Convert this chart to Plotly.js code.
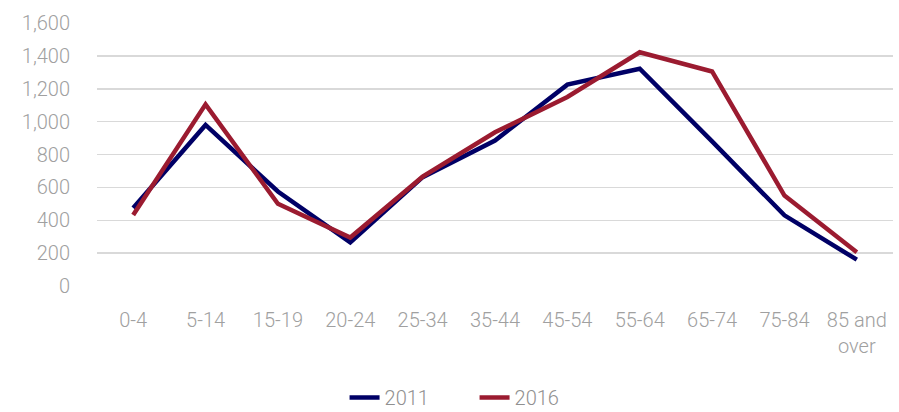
<!DOCTYPE html>
<html>
<head>
<meta charset="utf-8">
<script src="https://cdn.plot.ly/plotly-3.0.1.min.js"></script>
<style>html,body{margin:0;padding:0;background:#fff}#chart{width:899px;height:412px}</style>
</head>
<body>
<div id="chart"></div>
<script>
const categories = ["0-4","5-14","15-19","20-24","25-34","35-44","45-54","55-64","65-74","75-84","85 and<br>over"];
const values2011 = [475, 980, 575, 265, 662, 885, 1225, 1322, 880, 430, 160];
const values2016 = [432, 1105, 500, 295, 665, 935, 1150, 1422, 1305, 550, 205];

const tickFont = {family: "Roboto", size: 20, color: "#a0a0a0", weight: 300};

Plotly.newPlot("chart", [
  {x: categories, y: values2011, name: "2011", type: "scatter", mode: "lines",
   line: {color: "#000066", width: 4.5}},
  {x: categories, y: values2016, name: "2016", type: "scatter", mode: "lines",
   line: {color: "#9b1b30", width: 4.5}}
], {
  width: 899, height: 412,
  margin: {l: 97, r: 6, t: 23, b: 126, autoexpand: false},
  paper_bgcolor: "#fff", plot_bgcolor: "#fff",
  showlegend: true,
  legend: {orientation: "h", x: 0.311, xanchor: "left", yref: "container", y: 0.035, yanchor: "middle",
           entrywidth: 85, entrywidthmode: "pixels",
           font: {family: "Roboto", size: 20, color: "#909090", weight: 300}},
  xaxis: {type: "category", range: [-0.5, 10.5], showgrid: false, zeroline: false, automargin: false,
          showline: false, ticks: "outside", ticklen: 16, tickcolor: "rgba(0,0,0,0)", tickfont: tickFont, tickangle: 0},
  yaxis: {range: [0, 1600], dtick: 200, tickformat: ",d", showgrid: true, automargin: false,
          gridcolor: "#d9d9d9", gridwidth: 1.5, zeroline: false, showline: false,
          tickfont: tickFont, ticks: "outside", ticklen: 22, tickcolor: "rgba(0,0,0,0)"}
}, {displayModeBar: false, staticPlot: true});
</script>
</body>
</html>
